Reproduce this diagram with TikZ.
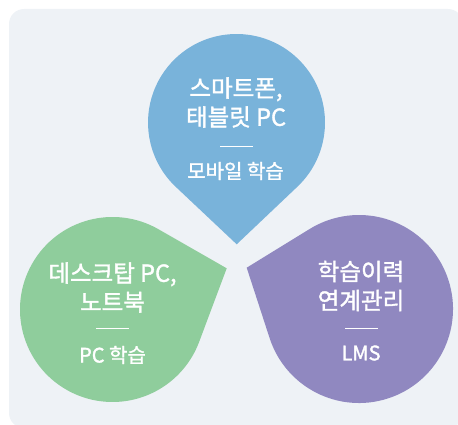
\documentclass[tikz,border=0pt]{standalone}
\usepackage{fontspec}
\setmainfont{Noto Sans CJK KR}[FakeBold=1.5]
\usepackage{xcolor}
\usepackage{tikz}

\definecolor{panel}{HTML}{EEF2F6}
\definecolor{mobile}{HTML}{79B3DA}
\definecolor{desktop}{HTML}{8FCD9C}
\definecolor{lms}{HTML}{9088C0}

\begin{document}
\begin{tikzpicture}[x=1pt, y=1pt,
    title/.style={text=white, align=center, font=\fontsize{23.5}{29}\selectfont},
    sub/.style={text=white, font=\fontsize{20}{22}\selectfont},
    bar/.style={white, line width=1pt}]
      \useasboundingbox (0,0) rectangle (458,424);
      \fill[panel, rounded corners=15pt] (9,-4) rectangle (463,415);
      % centres and tips of the three drops
      \coordinate (mc) at (236.5, 301.5);
      \coordinate (mt) at (236.7, 179.7);
      \coordinate (dc) at (112.5, 114.5);
      \coordinate (dt) at (226.7, 155.7);
      \coordinate (lc) at (359, 115);
      \coordinate (lt) at (246.7, 156.3);
      \fill[mobile] (mt) -- ([shift={(-46.6:88.5)}]mc) arc[start angle=-46.6, end angle=226.6, radius=88.5] -- cycle;
      \fill[desktop] (dt) -- ([shift={(60.2:92.5)}]dc) arc[start angle=60.2, end angle=339.4, radius=92.5] -- cycle;
      \fill[lms] (lt) -- ([shift={(198:94)}]lc) arc[start angle=198, end angle=481.6, radius=94] -- cycle;
      % texts
      \node[title] (mobile title) at (236, 321.5) {스마트폰,\\태블릿 PC};
      \draw[bar] (220, 278) -- (253, 278);
      \node[sub] (mobile sub) at (235.5, 253) {모바일 학습};
      \node[title] (desktop title) at (112.5, 136.5) {데스크탑 PC,\\노트북};
      \draw[bar] (96, 96) -- (129, 96);
      \node[sub] (desktop sub) at (112.5, 69) {PC 학습};
      \node[title] (lms title) at (361, 138) {학습이력\\연계관리};
      \draw[bar] (345, 96) -- (378, 96);
      \node[sub] (lms sub) at (361, 71) {LMS};
\end{tikzpicture}
\end{document}
